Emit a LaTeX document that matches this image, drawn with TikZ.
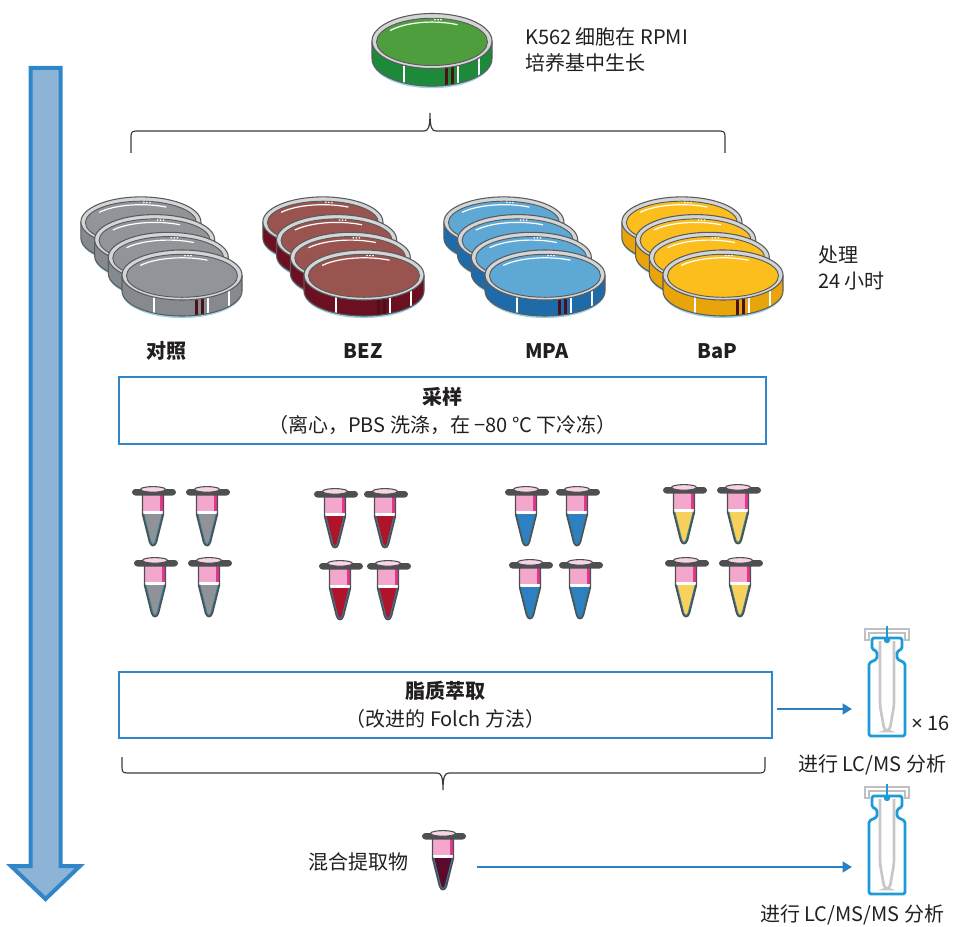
\documentclass[tikz,border=0pt]{standalone}
\usepackage{fontspec}
\setmainfont{Noto Sans CJK SC}
\newfontfamily\latinfont{Noto Sans}
\usetikzlibrary{arrows.meta}

\definecolor{textdark}{HTML}{231F20}
\definecolor{dishline}{HTML}{5A5B5D}
\definecolor{rimgray}{HTML}{D4D5D7}
\definecolor{baseblue}{HTML}{9BD3E4}
\definecolor{ctrlTop}{HTML}{919498}
\definecolor{ctrlSide}{HTML}{86898D}
\definecolor{bezTop}{HTML}{9A544F}
\definecolor{bezSide}{HTML}{6B1020}
\definecolor{mpaTop}{HTML}{5EA8D5}
\definecolor{mpaSide}{HTML}{1F6BA9}
\definecolor{bapTop}{HTML}{FBBE1C}
\definecolor{bapSide}{HTML}{E8A40B}
\definecolor{grnTop}{HTML}{4F9E3E}
\definecolor{grnSide}{HTML}{1D8A3A}
\definecolor{darkpatch}{HTML}{4A1218}
\definecolor{boxblue}{HTML}{2F86C8}
\definecolor{arrowblue}{HTML}{2A80C5}
\definecolor{bigfill}{HTML}{8DB3D6}
\definecolor{tubegray}{HTML}{4E4F51}
\definecolor{tubepink}{HTML}{F3A7CD}
\definecolor{tubemag}{HTML}{E2388F}
\definecolor{cappink}{HTML}{F8D3E5}
\definecolor{tubeteal}{HTML}{2F7F96}
\definecolor{liqGray}{HTML}{8F9297}
\definecolor{liqRed}{HTML}{B0142A}
\definecolor{liqBlue}{HTML}{2F80C2}
\definecolor{liqYellow}{HTML}{F8D05C}
\definecolor{liqMaroon}{HTML}{5C0A2C}
\definecolor{vialblue}{HTML}{1E9BD7}
\definecolor{capgray}{HTML}{BFC0C2}
\definecolor{insertgray}{HTML}{C6C7C9}
\definecolor{bracegray}{HTML}{3A3A3A}

\tikzset{
  txt/.style={text=textdark, font=\fontsize{15}{20}\selectfont, inner sep=0pt},
  dishlbl/.style={txt, font=\fontsize{15}{20}\selectfont\bfseries},
  stepbox/.style={draw=boxblue, line width=1.6pt, align=center, text=textdark,
    font=\fontsize{15}{21}\selectfont, inner sep=0pt},
  flowarrow/.style={draw=arrowblue, line width=2.2pt,
    -{Triangle[length=7pt,width=8pt]}},
  bracepath/.style={draw=bracegray, line width=0.9pt}
}

% petri dish: x, y (lid centre), lid colour, side colour, extra scope options
\newcommand{\petridish}[5]{%
\begin{scope}[shift={(#1,#2)},#5]
  \draw[baseblue, line width=1.6pt] (-59,17) arc[start angle=180,end angle=0,x radius=59,y radius=25];
  \fill[#4] (-60,0) -- (-60,16) arc[start angle=180,end angle=0,x radius=60,y radius=25]
     -- (60,0) arc[start angle=0,end angle=180,x radius=60,y radius=25] -- cycle;
  \foreach \a in {118,64,38}
    {\draw[white, line width=1.3pt] ([shift={(\a:60 and 25)}]0,0) -- ++(0,16);}
  \foreach \a in {76,70}
    {\draw[darkpatch, line width=2.6pt] ([shift={(\a:60 and 25)}]0,0) -- ++(0,16);}
  \draw[dishline, line width=0.8pt] (-60,0) -- (-60,16) arc[start angle=180,end angle=0,x radius=60,y radius=25]
     -- (60,0);
  \filldraw[fill=rimgray, draw=dishline, line width=0.8pt] (0,0) ellipse[x radius=60, y radius=25];
  \filldraw[fill=#3, draw=dishline, line width=0.7pt] (0,0.8) ellipse[x radius=55.5, y radius=21.5];
  \draw[white, line width=0.9pt] ([shift={(215:51 and 18)}]0,0.8) arc[start angle=215,end angle=300,x radius=51,y radius=18];
  \fill[white] (3,-19.5) circle[radius=0.9] (6,-19.5) circle[radius=0.9] (9,-19.4) circle[radius=0.9];
\end{scope}}

% stack of four dishes, front dish lid centre given
\newcommand{\dishstack}[4]{%
  \foreach \k in {3,2,1,0}
    {\petridish{#1-13.7*\k}{#2-17.7*\k}{#3}{#4}{}}%
}

% micro-centrifuge tube: x, y (cap centre), liquid colour
\newcommand{\eptube}[3]{%
\begin{scope}[shift={(#1,#2)}]
  \begin{scope}
    \clip (-10.5,2) -- (-10.5,22) -- (-3.5,50) .. controls (-2,55) and (2,55) .. (3.5,50) -- (10.5,22) -- (10.5,2) -- cycle;
    \fill[#3] (-12,0) rectangle (12,57);
    \fill[tubepink] (-12,0) rectangle (12,19);
    \fill[tubemag] (6.5,0) rectangle (12,19);
    \fill[white] (-12,19) rectangle (12,21.5);
    \draw[tubeteal, line width=2.6pt] (-10.5,21.5) -- (-10.5,22) -- (-3.5,50) .. controls (-2,55) and (2,55) .. (3.5,50) -- (10.5,22) -- (10.5,21.5);
  \end{scope}
  \draw[tubegray, line width=1.1pt, line join=round] (-10.5,2) -- (-10.5,22) -- (-3.5,50) .. controls (-2,55) and (2,55) .. (3.5,50) -- (10.5,22) -- (10.5,2);
  \fill[tubegray, rounded corners=2.5] (-21,-3) rectangle (23,3.5);
  \filldraw[fill=cappink, draw=tubegray, line width=0.8pt] (0,-2.6) ellipse[x radius=12.5, y radius=2.8];
\end{scope}}

% autosampler vial with insert: x centre, y of needle top
\newcommand{\lcvial}[2]{%
\begin{scope}[shift={(#1,#2)}]
  \filldraw[fill=white, draw=capgray, line width=1.1pt]
     (-22,12) -- (-22,1) -- (22,1) -- (22,12) -- (18,12) -- (18,5) -- (-18,5) -- (-18,12) -- cycle;
  \draw[insertgray, line width=2pt, rounded corners=3] (-7,13) -- (-7,78) -- (-2.5,103) -- (2.5,103) -- (7,78) -- (7,13);
  \draw[vialblue, line width=2.1pt, rounded corners=1.2pt, line join=round]
     (-15,10) -- (15,10) -- (15,21) -- (10,23.5) -- (10,31)
     -- (18,35) -- (18,108) -- (-18,108) -- (-18,35) -- (-10,31) -- (-10,23.5) -- (-15,21) -- cycle;
  \draw[vialblue, line width=1.1pt] (0,-2) -- (0,12);
  \fill[vialblue] (0,12) circle[radius=3.2];
\end{scope}}

\begin{document}
\begin{tikzpicture}[x=0.75pt,y=-0.75pt]
\useasboundingbox (0,0) rectangle (971,927);

% time axis arrow on the left
\filldraw[fill=bigfill, draw=boxblue, line width=3pt, line join=miter]
  (30.5,68) -- (60.5,68) -- (60.5,866) -- (80,866) -- (45.5,899) -- (11,866) -- (30.5,866) -- cycle;

% culture flask
\petridish{432}{41}{grnTop}{grnSide}{yscale=1.1}
\node[txt, anchor=west, align=left] (culture) at (525,50) {K562 细胞在 RPMI\\培养基中生长};

% brace splitting into four treatments
\draw[bracepath] (131,153) -- (131,137) .. controls (131,132) and (132,131) .. (137,131) -- (424,131)
  .. controls (428,131) and (430,128) .. (430,113) .. controls (430,128) and (432,131) .. (436,131)
  -- (719,131) .. controls (724,131) and (725,132) .. (725,137) -- (725,153);

% treated cultures
\dishstack{182}{275}{ctrlTop}{ctrlSide}
\dishstack{364}{275}{bezTop}{bezSide}
\dishstack{545}{275}{mpaTop}{mpaSide}
\dishstack{723}{275}{bapTop}{bapSide}

\node[txt, anchor=west, align=left] (treat) at (818,268) {处理\\24 小时};

\node[dishlbl] (lblCtrl) at (166,351) {对照};
\node[dishlbl] (lblBEZ) at (363,351) {BEZ};
\node[dishlbl] (lblMPA) at (547,351) {MPA};
\node[dishlbl] (lblBaP) at (717,351) {BaP};

% sampling step
\node[stepbox, minimum width=485pt, minimum height=50pt] (sampling) at (442.5,410.5)
  {\textbf{采样}\\（离心，PBS 洗涤，在 −80 °C 下冷冻）};

% harvested samples
\eptube{153}{492}{liqGray}   \eptube{207}{492}{liqGray}
\eptube{155}{563}{liqGray}   \eptube{209}{563}{liqGray}
\eptube{335}{494}{liqRed}    \eptube{385}{494}{liqRed}
\eptube{340}{566}{liqRed}    \eptube{388}{566}{liqRed}
\eptube{526}{492}{liqBlue}   \eptube{577}{492}{liqBlue}
\eptube{530}{565}{liqBlue}   \eptube{580}{565}{liqBlue}
\eptube{684}{490}{liqYellow} \eptube{738}{490}{liqYellow}
\eptube{686}{563}{liqYellow} \eptube{740}{563}{liqYellow}

% lipid extraction step
\node[stepbox, minimum width=490pt, minimum height=49.5pt] (extract) at (445.5,705)
  {\textbf{脂质萃取}\\（改进的 Folch 方法）};

% individual LC/MS runs
\lcvial{887}{628}
\coordinate (vialA) at (852,709);
\draw[flowarrow] ([xshift=3pt,yshift=-3pt]extract.east) -- (vialA);
\node[txt, anchor=west] (times) at (911,723) {{\latinfont ×} 16};
\node[txt] (lcms) at (872,765) {进行 LC/MS 分析};

% brace merging all extracts
\draw[bracepath] (122,757) -- (122,767) .. controls (122,772) and (123,773) .. (128,773) -- (437,773)
  .. controls (441,773) and (443,776) .. (443,790) .. controls (443,776) and (445,773) .. (449,773)
  -- (759,773) .. controls (764,773) and (765,772) .. (765,767) -- (765,757);

% pooled extract
\node[txt, anchor=east] (pool) at (409,862) {混合提取物};
\eptube{443}{836}{liqMaroon}
\coordinate (poolR) at (477,867);

% pooled LC/MS/MS run
\lcvial{887}{786}
\coordinate (vialB) at (852,867);
\draw[flowarrow] (poolR) -- (vialB);
\node[txt] (lcmsms) at (852,915) {进行 LC/MS/MS 分析};

\end{tikzpicture}
\end{document}
